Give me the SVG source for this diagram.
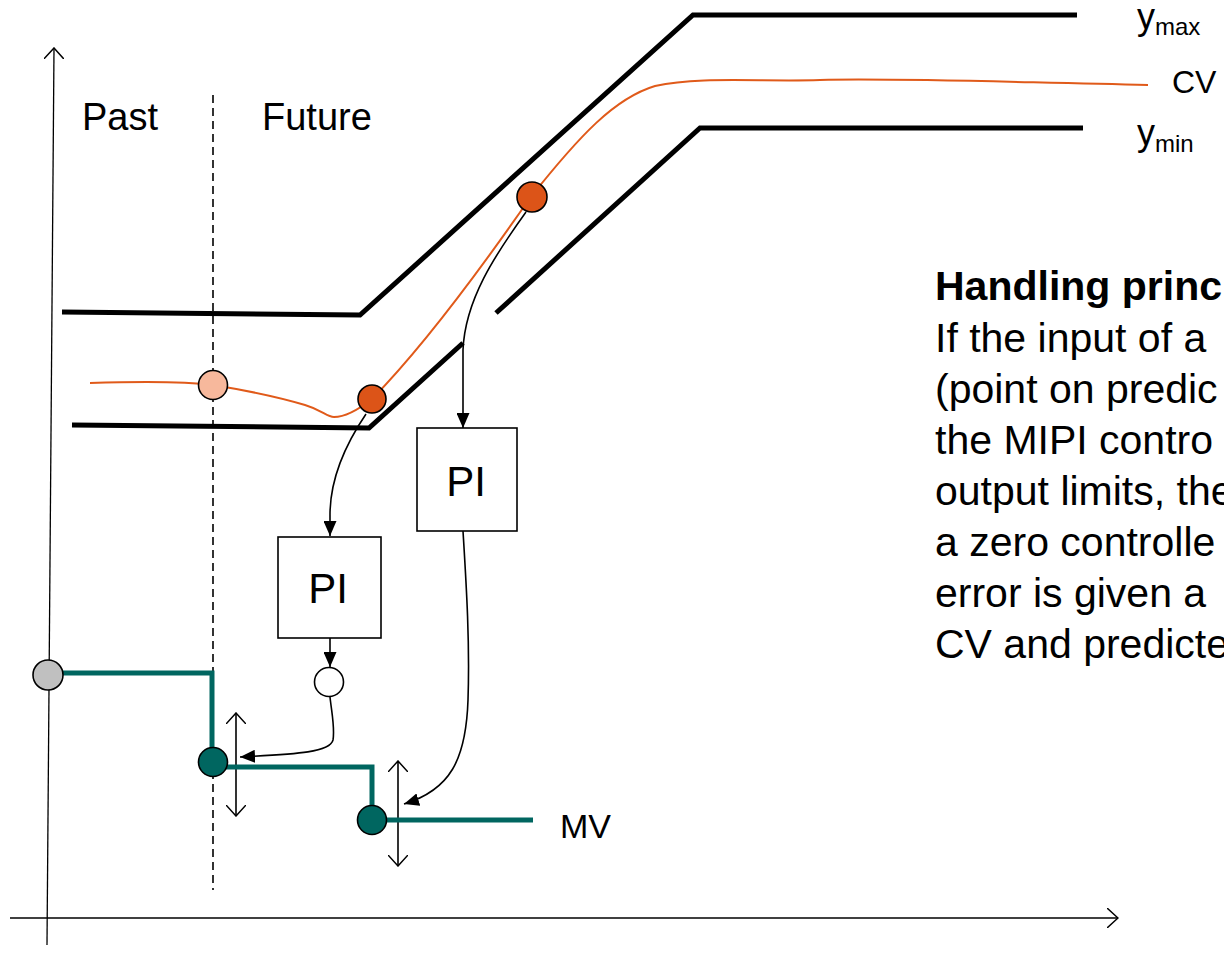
<svg xmlns="http://www.w3.org/2000/svg" width="1224" height="955" viewBox="0 0 1224 955">
<style>
.t{font-family:"Liberation Sans",Arial,sans-serif;fill:#000}
.lim{fill:none;stroke:#000;stroke-width:5}
.mv{fill:none;stroke:#006660;stroke-width:5}
.thin{fill:none;stroke:#000;stroke-width:1.6}
.ax{fill:none;stroke:#000;stroke-width:1.3}
.box{fill:#fff;stroke:#000;stroke-width:1.6}
.pt{stroke:#000;stroke-width:1.6}
</style>
<defs>
<marker id="tri" viewBox="0 0 15 13" refX="15" refY="6.5" markerWidth="15" markerHeight="13" markerUnits="userSpaceOnUse" orient="auto">
<path d="M0,0 L15,6.5 L0,13 Z" fill="#000"/>
</marker>
<marker id="open" viewBox="0 0 12 20" refX="11" refY="10" markerWidth="12" markerHeight="20" markerUnits="userSpaceOnUse" orient="auto-start-reverse">
<path d="M0,0 L11,10 L0,20" fill="none" stroke="#000" stroke-width="1.5"/>
</marker>
</defs>

<g id="axes">
<line class="ax" x1="47" y1="945" x2="54" y2="48" marker-end="url(#open)"/>
<line class="ax" x1="10" y1="918" x2="1118" y2="918" marker-end="url(#open)" stroke-width="2"/>
<line x1="213" y1="95" x2="213" y2="890" stroke="#000" stroke-width="1.6" stroke-dasharray="8,5"/>
<text class="t" x="82" y="130" font-size="38">Past</text>
<text class="t" x="262" y="130" font-size="38">Future</text>
</g>

<g id="ymax">
<polyline class="lim" points="62,312 360,315 693,15 1077,15"/>
<text class="t" x="1137" y="29" font-size="36">y<tspan font-size="24" dy="6">max</tspan></text>
</g>

<g id="ymin">
<polyline class="lim" points="72,425 369,428 463,343"/>
<polyline class="lim" points="496,313 700,128 1083,128"/>
<text class="t" x="1137" y="145" font-size="36">y<tspan font-size="24" dy="7">min</tspan></text>
</g>

<g id="cv">
<path d="M90,383 C150,381 190,382 213,385 C250,391 285,399 305,405 C322,410 327,417 334,417 C344,417 358,410 372,399 C420,350 480,270 530,198 C580,135 615,98 655,86 C700,76 760,82 820,80 C900,78 1000,82 1148,85" fill="none" stroke="#E05A1A" stroke-width="2"/>
<text class="t" x="1172" y="93" font-size="32">CV</text>
</g>

<g id="connectors">
<path class="thin" d="M366,414 C345,445 330,480 330,515 L330,536" marker-end="url(#tri)"/>
<path class="thin" d="M526,212 C495,255 465,300 463,350 L463,428" marker-end="url(#tri)"/>
<path class="thin" d="M330,638 L330,667" marker-end="url(#tri)"/>
<path class="thin" d="M330,697 C332,715 335,728 333,740 C330,752 300,754 240,757" marker-end="url(#tri)"/>
<path class="thin" d="M463,531 C466,580 470,640 468,700 C466,760 450,790 404,804" marker-end="url(#tri)"/>
<line class="thin" x1="236" y1="713" x2="236" y2="816" marker-start="url(#open)" marker-end="url(#open)"/>
<line class="thin" x1="398" y1="761" x2="398" y2="866" marker-start="url(#open)" marker-end="url(#open)"/>
</g>

<g id="mv">
<polyline class="mv" points="49,673 212,673 212,762"/>
<polyline class="mv" points="213,767 372,767 372,820 533,820"/>
<text class="t" x="560" y="838" font-size="34">MV</text>
</g>

<g id="pi1">
<rect class="box" x="278" y="537" width="103" height="101"/>
<text class="t" x="328" y="603" font-size="42" text-anchor="middle">PI</text>
</g>
<g id="pi2">
<rect class="box" x="417" y="428" width="100" height="103"/>
<text class="t" x="466" y="496" font-size="42" text-anchor="middle">PI</text>
</g>

<g id="points">
<circle class="pt" cx="213" cy="385" r="14.5" fill="#F7B89C"/>
<circle class="pt" cx="372" cy="399" r="14" fill="#DC5418"/>
<circle class="pt" cx="532" cy="197" r="15" fill="#DC5418"/>
<circle class="pt" cx="329" cy="682" r="14.5" fill="#fff"/>
<circle class="pt" cx="48" cy="675" r="15" fill="#C0C0C0"/>
<circle class="pt" cx="213" cy="762" r="14.5" fill="#006660"/>
<circle class="pt" cx="372" cy="820" r="14.5" fill="#006660"/>
</g>

<g id="note">
<text class="t" font-size="41">
<tspan x="935" y="300" font-weight="bold">Handling princ</tspan>
<tspan x="935" y="352">If the input of a</tspan>
<tspan x="935" y="403">(point on predic</tspan>
<tspan x="935" y="454">the MIPI contro</tspan>
<tspan x="935" y="505">output limits, the</tspan>
<tspan x="935" y="556">a zero controlle</tspan>
<tspan x="935" y="607">error is given a</tspan>
<tspan x="935" y="658">CV and predicte</tspan>
</text>
</g>
</svg>
